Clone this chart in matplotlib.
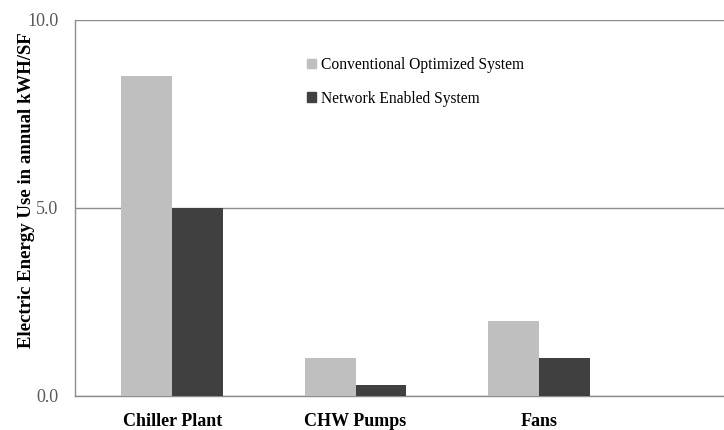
import numpy as np
import matplotlib.pyplot as plt
from matplotlib.patches import Patch

# data
categories = ["Chiller Plant", "CHW Pumps", "Fans"]
conventional = [8.5, 1.0, 2.0]
network = [5.0, 0.3, 1.0]
series_names = ["Conventional Optimized System", "Network Enabled System"]
yticks = [0.0, 5.0, 10.0]

plt.rcParams['font.family'] = ['Liberation Serif', 'DejaVu Serif']

fig = plt.figure(figsize=(7.24, 4.30), dpi=100)
ax = fig.add_axes([75 / 724, 1 - 396 / 430, 1 - 75 / 724, (396 - 20) / 430])

x = np.arange(len(categories))
w = 0.278
ax.bar(x - w / 2, conventional, w, color='#bfbfbf', zorder=3)
ax.bar(x + w / 2, network, w, color='#404040', zorder=3)

ax.set_xlim(-0.53, 3.01)
ax.set_ylim(0, 10)
ax.set_yticks(yticks)
ax.set_yticklabels(["%.1f" % v for v in yticks], color='#595959', fontsize=13)
ax.set_xticks(x)
ax.set_xticklabels(categories, fontsize=13, fontweight='bold')
ax.tick_params(axis='both', length=0)
ax.tick_params(axis='y', pad=12)
ax.tick_params(axis='x', pad=12)
ax.grid(axis='y', color='#8c8c8c', linewidth=1, zorder=0)

for s in ['top', 'right']:
    ax.spines[s].set_visible(False)
for s in ['left', 'bottom']:
    ax.spines[s].set_color('#8c8c8c')
    ax.spines[s].set_linewidth(1)

ax.set_ylabel("Electric Energy Use in annual kWH/SF", fontsize=13.5, fontweight='bold')
ax.yaxis.set_label_coords(-0.062, 0.548)

handles = [Patch(color='#bfbfbf'), Patch(color='#404040')]
fig.legend(handles, series_names, loc='upper left', bbox_to_anchor=(293 / 724, 1 - 43 / 430),
           frameon=False, fontsize=11.2, handlelength=0.6, handleheight=0.6,
           handletextpad=0.3, labelspacing=1.15)

fig.savefig("out.png", dpi=100)
